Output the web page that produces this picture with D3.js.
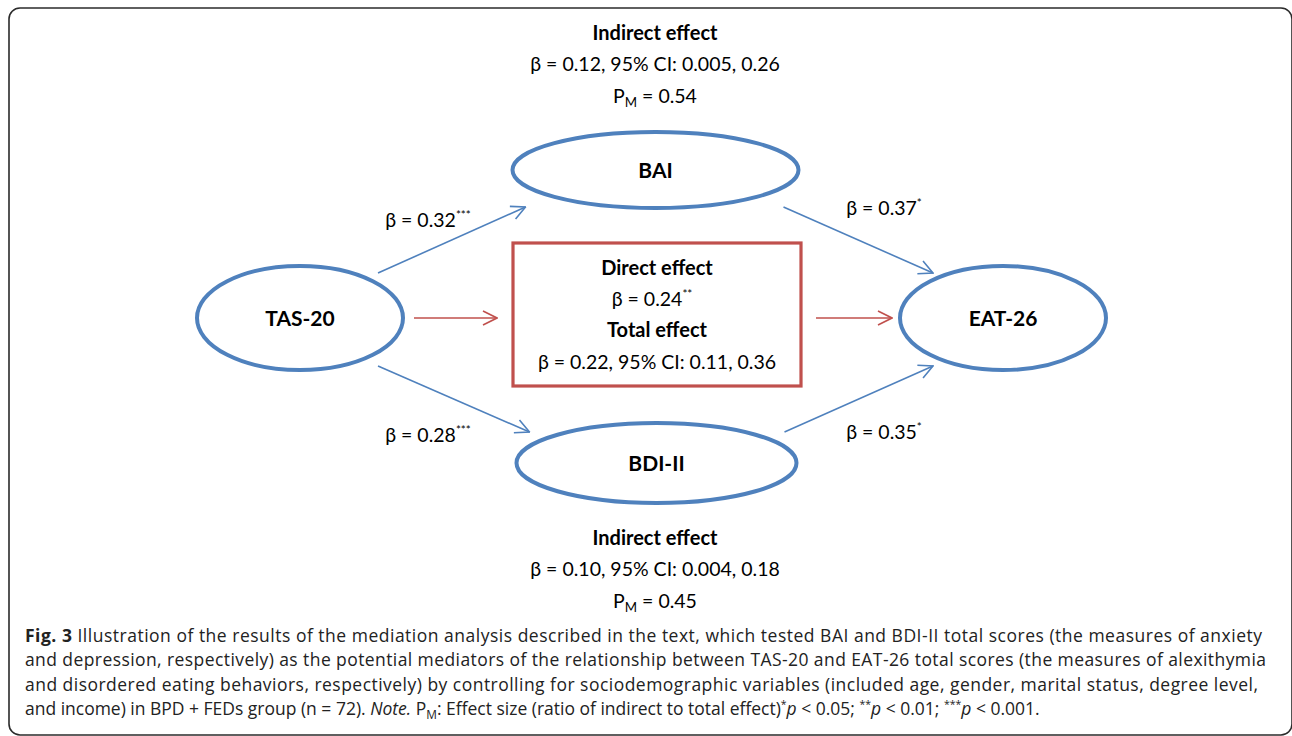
<!DOCTYPE html>
<html>
<head>
<meta charset="utf-8">
<script src="https://cdn.jsdelivr.net/npm/d3@7"></script>
<style>
  body { margin: 0; background: #fff; }
  svg { display: block; }
</style>
</head>
<body>
<svg id="svg"></svg>
<script>
// data
var nodeNames = ['TAS-20', 'BAI', 'BDI-II', 'EAT-26'];
var pathFrom = ['TAS-20', 'BAI', 'TAS-20', 'BDI-II'];
var pathTo = ['BAI', 'EAT-26', 'BDI-II', 'EAT-26'];
var pathBeta = ['0.32', '0.37', '0.28', '0.35'];
var pathStars = ['***', '*', '***', '*'];
var indirectBeta = ['0.12', '0.10'];
var indirectCI = [['0.005', '0.26'], ['0.004', '0.18']];
var indirectPM = ['0.54', '0.45'];
var directBeta = '0.24', directStars = '**';
var totalBeta = '0.22', totalCI = ['0.11', '0.36'];

var width = 1292, height = 736;
var blue = '#4f81bd', red = '#c0504d';
var font = 'Lato, "Open Sans", sans-serif';

var svg = d3.select('#svg').attr('width', width).attr('height', height);

// layout scales (diagram units -> pixels)
var x = d3.scaleLinear().domain([0, 1]).range([300, 1003]);
var y = d3.scaleLinear().domain([-1, 1]).range([170, 463]);

var layout = {
  'TAS-20': { cx: x(0), cy: y(0) + 1.5, rx: 103, ry: 52 },
  'BAI': { cx: x(0.5) + 4, cy: y(-1), rx: 143, ry: 38 },
  'BDI-II': { cx: x(0.5) + 5, cy: y(1), rx: 140, ry: 40 },
  'EAT-26': { cx: x(1), cy: y(0) + 1.5, rx: 103, ry: 52 }
};

// frame (right and bottom sides run off the picture)
svg.append('rect')
  .attr('x', 9).attr('y', 8).attr('width', 1283).attr('height', 727)
  .attr('rx', 11)
  .attr('fill', 'none').attr('stroke', '#2b2b2b').attr('stroke-width', 1.6);

// arrow markers
function marker(id, color) {
  svg.append('defs').append('marker')
    .attr('id', id)
    .attr('viewBox', '0 0 16 16')
    .attr('refX', 15).attr('refY', 8)
    .attr('markerWidth', 16).attr('markerHeight', 16)
    .attr('markerUnits', 'userSpaceOnUse')
    .attr('orient', 'auto')
    .append('path')
    .attr('d', 'M1,1 L15,8 L1,15')
    .attr('fill', 'none').attr('stroke', color).attr('stroke-width', 1.6);
}
marker('ab', blue);
marker('ar', red);

// blue path arrows, trimmed to the ellipse edges
pathFrom.forEach(function (f, i) {
  var a = layout[f], b = layout[pathTo[i]];
  var x1, y1, x2, y2;
  if (f === 'TAS-20') {
    x1 = a.cx + 78; y1 = a.cy + (b.cy < a.cy ? -45 : 48);
    x2 = b.cx - (b.cy < a.cy ? 130 : 127); y2 = b.cy + (b.cy < a.cy ? 37 : -31);
  } else {
    x1 = a.cx + 128; y1 = a.cy + (a.cy < b.cy ? 37 : -31);
    x2 = b.cx - 70; y2 = b.cy + (a.cy < b.cy ? -45 : 48);
  }
  svg.append('line')
    .attr('x1', x1).attr('y1', y1).attr('x2', x2).attr('y2', y2)
    .attr('stroke', blue).attr('stroke-width', 1.6)
    .attr('marker-end', 'url(#ab)');
});

// red arrows through direct box
var box = { x: 513, y: 243, w: 288, h: 143 };
svg.append('line')
  .attr('x1', layout['TAS-20'].cx + 114).attr('y1', 318)
  .attr('x2', box.x - 16).attr('y2', 318)
  .attr('stroke', red).attr('stroke-width', 1.6).attr('marker-end', 'url(#ar)');
svg.append('line')
  .attr('x1', box.x + box.w + 15).attr('y1', 318)
  .attr('x2', layout['EAT-26'].cx - 111).attr('y2', 318)
  .attr('stroke', red).attr('stroke-width', 1.6).attr('marker-end', 'url(#ar)');

svg.append('rect')
  .attr('x', box.x).attr('y', box.y).attr('width', box.w).attr('height', box.h)
  .attr('fill', 'none').attr('stroke', red).attr('stroke-width', 3.2);

// nodes
var nodes = svg.selectAll('g.node').data(nodeNames).enter().append('g').attr('class', 'node');
nodes.append('ellipse')
  .attr('cx', function (d) { return layout[d].cx; })
  .attr('cy', function (d) { return layout[d].cy; })
  .attr('rx', function (d) { return layout[d].rx; })
  .attr('ry', function (d) { return layout[d].ry; })
  .attr('fill', 'none').attr('stroke', blue).attr('stroke-width', 4);
nodes.append('text')
  .attr('x', function (d) { return layout[d].cx; })
  .attr('y', function (d) { return layout[d].cy + 7.5; })
  .attr('text-anchor', 'middle')
  .attr('font-family', font).attr('font-weight', 'bold').attr('font-size', 21)
  .text(function (d) { return d; });

// text helper
function label(parent, tx, ty, parts, opts) {
  opts = opts || {};
  var size = opts.size || 19;
  var t = parent.append('text')
    .attr('x', tx).attr('y', ty)
    .attr('text-anchor', opts.anchor || 'middle')
    .attr('font-family', opts.family || font)
    .attr('font-size', size)
    .attr('fill', opts.fill || '#000');
  parts.forEach(function (p) {
    if (typeof p === 'string') p = { t: p };
    var s = t.append('tspan').text(p.t);
    if (p.b) s.attr('font-weight', 'bold');
    if (p.i) s.attr('font-style', 'italic');
    if (p.sup) s.attr('font-size', size * 0.6).attr('dy', -size * 0.42);
    if (p.sub) s.attr('font-size', size * 0.68).attr('dy', size * 0.22);
    if (p.back) s.attr('dy', p.back);
  });
  return t;
}

// path coefficient labels
var coefPos = [[428, 227], [884, 215], [428, 442], [884, 439]];
pathBeta.forEach(function (b, i) {
  label(svg, coefPos[i][0], coefPos[i][1], ['β = ' + b, { t: pathStars[i], sup: true }], { size: 19.5 });
});

// indirect effects
var indY = [33, 538];
indirectBeta.forEach(function (b, i) {
  label(svg, 655, indY[i] + 7, [{ t: 'Indirect effect', b: true }], { size: 20 });
  label(svg, 655, indY[i] + 38, ['β = ' + b + ', 95% CI: ' + indirectCI[i][0] + ', ' + indirectCI[i][1]], { size: 19.5 });
  label(svg, 655, indY[i] + 70, ['P', { t: 'M', sub: true }, { t: ' = ' + indirectPM[i], back: -19.5 * 0.22 }], { size: 19.5 });
});

// direct / total effect
label(svg, 657, 275, [{ t: 'Direct effect', b: true }], { size: 20 });
label(svg, 652, 306, ['β = ' + directBeta, { t: directStars, sup: true }], { size: 19.5 });
label(svg, 657, 337, [{ t: 'Total effect', b: true }], { size: 20 });
label(svg, 657, 369, ['β = ' + totalBeta + ', 95% CI: ' + totalCI[0] + ', ' + totalCI[1]], { size: 19.5 });

// caption: justified lines, last line set at natural width
var capFont = '"Open Sans", "Noto Sans", sans-serif';
var cs = 17.5;
var capLines = [
  [{ t: 'Fig. 3', b: true }, ' Illustration of the results of the mediation analysis described in the text, which tested BAI and BDI-II total scores (the measures of anxiety'],
  ['and depression, respectively) as the potential mediators of the relationship between TAS-20 and EAT-26 total scores (the measures of alexithymia'],
  ['and disordered eating behaviors, respectively) by controlling for sociodemographic variables (included age, gender, marital status, degree level,'],
  ['and income) in BPD + FEDs group (n = 72). ', { t: 'Note.', i: true }, ' P', { t: 'M', sub: true },
    { t: ': Effect size (ratio of indirect to total effect)', back: -cs * 0.22 },
    { t: '*', sup: true }, { t: 'p', i: true, back: cs * 0.42 }, ' < 0.05; ',
    { t: '**', sup: true }, { t: 'p', i: true, back: cs * 0.42 }, ' < 0.01; ',
    { t: '***', sup: true }, { t: 'p', i: true, back: cs * 0.42 }, ' < 0.001.']
];
var capEnds = [1262, 1266, 1258, 1040];
var capX = 25;
var cap = svg.append('g');
var capTexts = capLines.map(function (l, i) {
  return label(cap, 0, 642 + i * 24.5, l, { anchor: 'start', family: capFont, size: cs, fill: '#222' });
});
var k = (capEnds[3] - capX) / capTexts[3].node().getComputedTextLength();
capTexts.forEach(function (t, i) {
  if (i < 3) t.attr('textLength', (capEnds[i] - capX) / k).attr('lengthAdjust', 'spacing');
});
cap.attr('transform', 'translate(' + capX + ',0) scale(' + k + ',1)');
</script>
</body>
</html>
